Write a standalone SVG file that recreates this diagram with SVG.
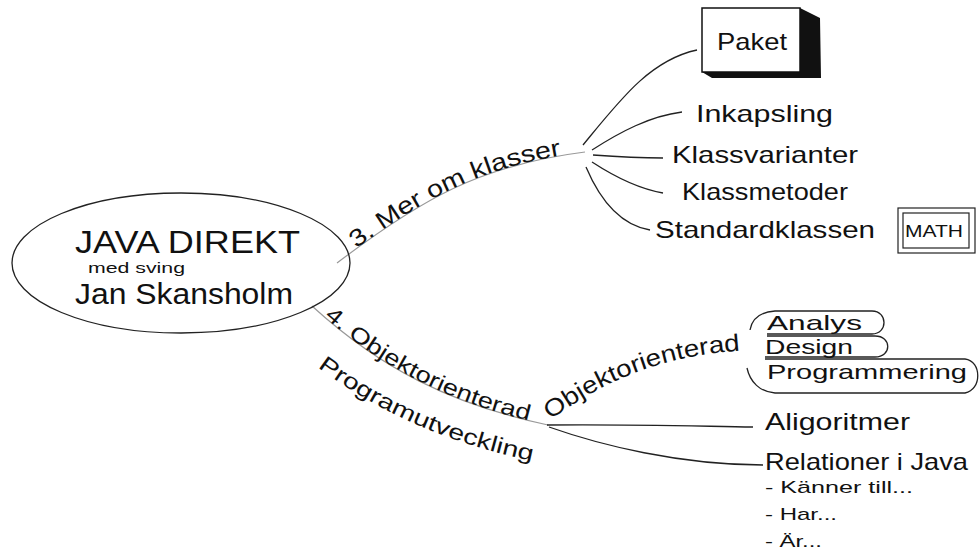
<svg xmlns="http://www.w3.org/2000/svg" width="979" height="554" viewBox="0 0 979 554">
<style>
text{font-family:"Liberation Sans","DejaVu Sans",sans-serif;fill:#111}
.ln{fill:none;stroke:#222;stroke-width:1.3}
.gl{fill:none;stroke:#999;stroke-width:1.2}
.t24{font-size:24px}
.t22{font-size:22px}
.t21{font-size:21px}
.t17{font-size:17px}
</style>
<defs>
<path id="p3" d="M337,263 C420,200 480,165 585,152"/>
<path id="p4a" d="M312,306 C380,368 450,404 548,425"/>
<path id="p4b" d="M316,366 C378,412 448,444 538,462"/>
<path id="p4c" d="M549,421 C600,383 660,354 752,350"/>
</defs>
<rect width="979" height="554" fill="#fff"/>
<g id="connectors">
<path class="gl" d="M337,263 C420,200 480,165 585,152"/>
<path class="gl" d="M312,306 C380,368 450,404 548,425"/>
<path class="ln" d="M583,145 C620,100 650,60 697,50"/>
<path class="ln" d="M592,150 C620,132 650,116 682,112"/>
<path class="ln" d="M593,155 C620,157 640,158 663,158"/>
<path class="ln" d="M592,162 C615,177 640,189 663,193"/>
<path class="ln" d="M586,167 C600,200 620,225 650,230"/>
<path class="ln" d="M547,425 C620,424 690,426 753,427"/>
<path class="ln" d="M549,427 C600,445 680,465 763,465"/>
</g>
<g id="center">
<ellipse cx="181" cy="263" rx="169" ry="70" fill="none" stroke="#222" stroke-width="1.3"/>
<text x="75" y="253" font-size="32" textLength="225" lengthAdjust="spacingAndGlyphs">JAVA DIREKT</text>
<text x="88" y="273" font-size="14" textLength="97" lengthAdjust="spacingAndGlyphs">med sving</text>
<text x="75" y="304" font-size="29" textLength="218" lengthAdjust="spacingAndGlyphs">Jan Skansholm</text>
</g>
<g id="branch3">
<text class="t24"><textPath href="#p3" startOffset="24" textLength="228" lengthAdjust="spacingAndGlyphs">3. Mer om klasser</textPath></text>
</g>
<g id="paket">
<polygon points="800,8 820,18 821,78 712,78 702,72 800,72" fill="#111"/>
<rect x="702" y="8" width="98" height="64" fill="#fff" stroke="#111" stroke-width="1.5"/>
<text x="717" y="50" class="t24" textLength="70" lengthAdjust="spacingAndGlyphs">Paket</text>
</g>
<g id="inkapsling"><text x="696" y="122" class="t24" textLength="137" lengthAdjust="spacingAndGlyphs">Inkapsling</text></g>
<g id="klassvarianter"><text x="672" y="163" class="t24" textLength="186" lengthAdjust="spacingAndGlyphs">Klassvarianter</text></g>
<g id="klassmetoder"><text x="682" y="200" class="t24" textLength="166" lengthAdjust="spacingAndGlyphs">Klassmetoder</text></g>
<g id="standardklassen"><text x="655" y="238" class="t24" textLength="220" lengthAdjust="spacingAndGlyphs">Standardklassen</text></g>
<g id="math">
<rect x="898" y="208" width="77" height="45" fill="none" stroke="#222" stroke-width="1.2"/>
<rect x="903" y="213" width="66" height="35" fill="none" stroke="#222" stroke-width="1.2"/>
<text x="905" y="237" font-size="16" textLength="58" lengthAdjust="spacingAndGlyphs">MATH</text>
</g>
<g id="branch4">
<text class="t22"><textPath href="#p4a" startOffset="16" textLength="232" lengthAdjust="spacingAndGlyphs">4. Objektorienterad</textPath></text>
<text class="t22"><textPath href="#p4b" startOffset="2" textLength="236" lengthAdjust="spacingAndGlyphs">Programutveckling</textPath></text>
</g>
<g id="objektorienterad">
<text class="t24"><textPath href="#p4c" startOffset="2" textLength="205" lengthAdjust="spacingAndGlyphs">Objektorienterad</textPath></text>
</g>
<g id="analys">
<path class="ln" d="M750,330 C752,318 760,312 775,311 L872,311 C888,311 888,334 872,334 L767,334"/>
<text x="767" y="330" class="t21" textLength="95" lengthAdjust="spacingAndGlyphs">Analys</text>
</g>
<g id="design">
<path class="ln" d="M767,336 L875,336 C892,336 892,357 875,357 L765,357"/>
<text x="765" y="354" class="t21" textLength="88" lengthAdjust="spacingAndGlyphs">Design</text>
</g>
<g id="programmering">
<path class="ln" d="M765,359 L965,359 C982,361 982,390 965,393 L775,393 C760,392 750,382 747,368"/>
<text x="767" y="379" class="t21" textLength="200" lengthAdjust="spacingAndGlyphs">Programmering</text>
</g>
<g id="aligoritmer"><text x="765" y="430" class="t24" textLength="145" lengthAdjust="spacingAndGlyphs">Aligoritmer</text></g>
<g id="relationer">
<text x="765" y="470" class="t24" textLength="203" lengthAdjust="spacingAndGlyphs">Relationer i Java</text>
<text x="765" y="493" class="t17" textLength="148" lengthAdjust="spacingAndGlyphs">- Känner till...</text>
<text x="765" y="520" class="t17" textLength="72" lengthAdjust="spacingAndGlyphs">- Har...</text>
<text x="765" y="547" class="t17" textLength="57" lengthAdjust="spacingAndGlyphs">- Är...</text>
</g>
</svg>
